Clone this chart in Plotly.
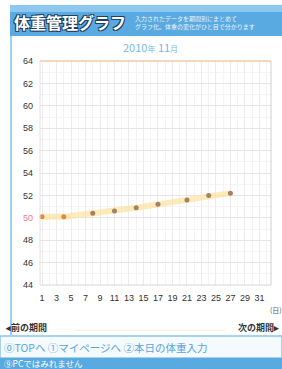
import plotly.graph_objects as go

# ---- data ----
days = [1, 4, 8, 11, 14, 17, 21, 24, 27]
weights = [50.1, 50.1, 50.4, 50.6, 50.9, 51.2, 51.6, 52.0, 52.2]
x_ticks = list(range(1, 32, 2))
y_ticks = list(range(44, 65, 2))
target = 50

W, H = 282, 369
L, R, T, B = 40, 271, 61, 285  # plot area in px

def px(x):
    return (x - L) / (R - L)

def py(y):
    return (B - y) / (B - T)

y_text = [("<span style='color:#f07890'>%d</span>" % v) if v == target else str(v) for v in y_ticks]

fig = go.Figure()
fig.add_trace(go.Scatter(
    x=days, y=weights, mode="lines",
    line=dict(color="rgba(253,226,160,0.7)", width=6),
    hoverinfo="skip", showlegend=False))
fig.add_trace(go.Scatter(
    x=days, y=weights, mode="markers",
    marker=dict(color=["#e8863a", "#e8863a"] + ["#a98060"] * (len(days) - 2), size=5),
    showlegend=False, cliponaxis=False))

shapes = []
# header band
shapes.append(dict(type="rect", xref="paper", yref="paper", x0=px(10), x1=px(282), y0=py(36), y1=py(5),
                   fillcolor="#5aaae2", line=dict(width=0), layer="below"))
shapes.append(dict(type="rect", xref="paper", yref="paper", x0=px(10), x1=px(282), y0=py(12), y1=py(5),
                   fillcolor="#8cc8ef", line=dict(width=0), layer="below"))
# left blue border of content
shapes.append(dict(type="line", xref="paper", yref="paper", x0=px(11), x1=px(11), y0=py(36), y1=py(336),
                   line=dict(color="#9fd0ef", width=2)))
# plot borders
shapes.append(dict(type="line", xref="paper", yref="paper", x0=0, x1=1, y0=1, y1=1,
                   line=dict(color="#f3c8a8", width=1.5)))
shapes.append(dict(type="line", xref="paper", yref="paper", x0=0, x1=1, y0=0, y1=0,
                   line=dict(color="#d6d6d6", width=1)))
shapes.append(dict(type="line", xref="paper", yref="paper", x0=1, x1=1, y0=0, y1=1,
                   line=dict(color="#cfcfcf", width=1)))
shapes.append(dict(type="line", xref="paper", yref="paper", x0=0, x1=0, y0=0, y1=1,
                   line=dict(color="#e0e0e0", width=1)))
# separator under nav links
shapes.append(dict(type="line", xref="paper", yref="paper", x0=px(75), x1=px(225), y0=py(330), y1=py(330),
                   line=dict(color="#eeeeee", width=1)))
# footer link row
shapes.append(dict(type="rect", xref="paper", yref="paper", x0=px(0), x1=px(282), y0=py(358), y1=py(336),
                   fillcolor="#f4fafe", line=dict(color="#8cc4ea", width=1.5), layer="below"))
# footer blue bar
shapes.append(dict(type="rect", xref="paper", yref="paper", x0=px(0), x1=px(282), y0=py(372), y1=py(358),
                   fillcolor="#5aaae2", line=dict(width=0), layer="below"))

ann = []
ann.append(dict(text="<b>体重管理グラフ</b>", x=px(12), y=py(22), xref="paper", yref="paper",
                xanchor="left", yanchor="middle", showarrow=False,
                font=dict(size=16, color="white", family="Noto Sans CJK JP",
                          shadow="1px 1px 0 #23405e, -1px -1px 0 #23405e, 1px -1px 0 #23405e, -1px 1px 0 #23405e")))
ann.append(dict(text="入力されたデータを期間別にまとめて<br>グラフ化。体重の変化がひと目で分かります",
                x=px(133), y=py(22), xref="paper", yref="paper", xanchor="left", yanchor="middle",
                showarrow=False, align="left",
                font=dict(size=6, color="#e8f4fc", family="Noto Sans CJK JP")))
ann.append(dict(text="2010<span style='font-size:8px'>年</span> 11<span style='font-size:8px'>月</span>",
                x=px(150), y=py(47), xref="paper", yref="paper", xanchor="center", yanchor="middle",
                showarrow=False, font=dict(size=11, color="#7ab8e0", family="Noto Sans CJK JP")))
ann.append(dict(text="(日)", x=px(268), y=py(310), xref="paper", yref="paper", xanchor="left", yanchor="middle",
                showarrow=False, font=dict(size=7, color="#555555", family="Noto Sans CJK JP")))
ann.append(dict(text="<b>◂前の期間</b>", x=px(3), y=py(327), xref="paper", yref="paper",
                xanchor="left", yanchor="middle", showarrow=False,
                font=dict(size=9, color="#333333", family="Noto Sans CJK JP")))
ann.append(dict(text="<b>次の期間▸</b>", x=px(281), y=py(327), xref="paper", yref="paper",
                xanchor="right", yanchor="middle", showarrow=False,
                font=dict(size=9, color="#333333", family="Noto Sans CJK JP")))
ann.append(dict(text="⓪TOPへ ①マイページへ ②本日の体重入力", x=px(2), y=py(347), xref="paper", yref="paper",
                xanchor="left", yanchor="middle", showarrow=False,
                font=dict(size=10.5, color="#5aa4dc", family="Noto Sans CJK JP")))
ann.append(dict(text="⑨PCではみれません", x=px(2), y=py(362.5), xref="paper", yref="paper",
                xanchor="left", yanchor="middle", showarrow=False,
                font=dict(size=8.5, color="#ffffff", family="Noto Sans CJK JP")))

fig.update_layout(
    width=W, height=H,
    margin=dict(l=L, r=W - R, t=T, b=H - B, pad=0),
    paper_bgcolor="white", plot_bgcolor="white",
    shapes=shapes, annotations=ann,
    xaxis=dict(range=[0.72, 32.6], tickvals=x_ticks, ticktext=[str(v) for v in x_ticks],
               showgrid=True, gridcolor="#ececec", gridwidth=1,
               minor=dict(dtick=1, tick0=0, showgrid=True, gridcolor="#f4f4f4"),
               zeroline=False, showline=False, ticks="", ticklabelstandoff=6,
               tickfont=dict(size=9, color="#333333", family="Liberation Sans"), fixedrange=True),
    yaxis=dict(range=[44, 64], tickvals=y_ticks, ticktext=y_text,
               showgrid=True, gridcolor="#e6e6e6", gridwidth=1,
               minor=dict(dtick=1, tick0=0, showgrid=True, gridcolor="#f5f5f5"),
               zeroline=False, showline=False, ticks="", ticklabelstandoff=6,
               tickfont=dict(size=9, color="#333333", family="Liberation Sans"), fixedrange=True),
    font=dict(family="Noto Sans CJK JP"),
)

fig.write_html("out.html", config={"displayModeBar": False},
               post_script="document.body.style.margin='0px';document.body.style.overflow='hidden';")
